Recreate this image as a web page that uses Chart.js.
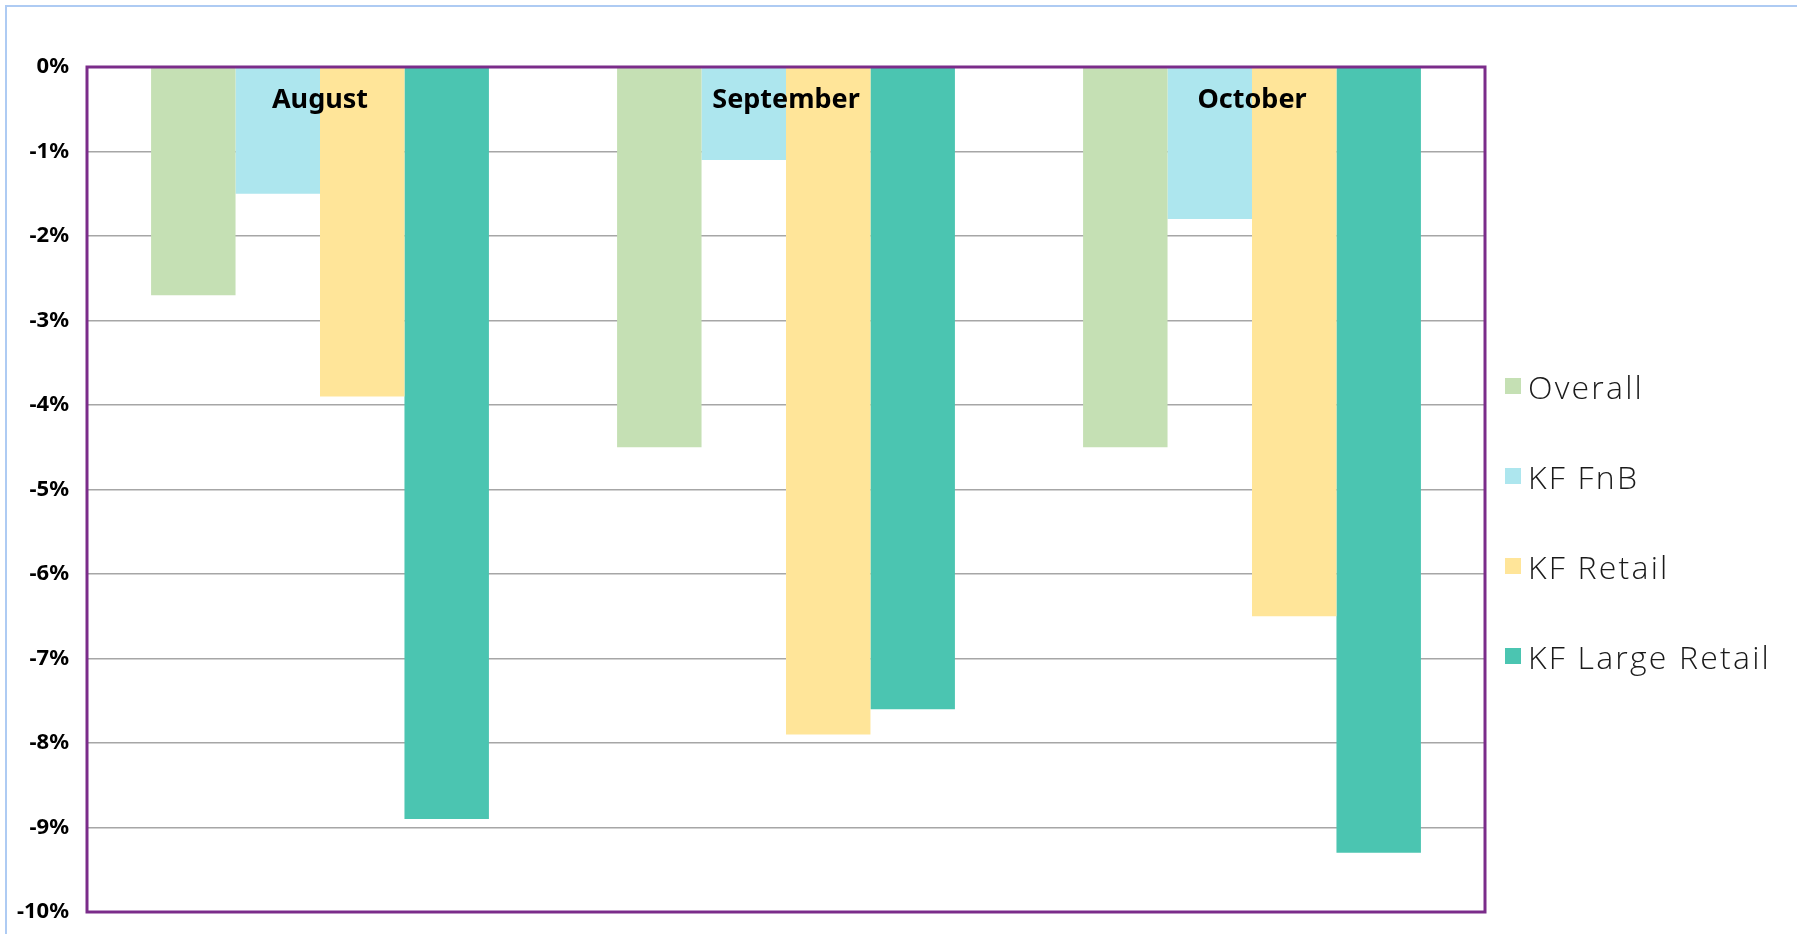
<!DOCTYPE html>
<html>
<head>
<meta charset="utf-8">
<script src="https://cdn.jsdelivr.net/npm/chart.js@4.4.1/dist/chart.umd.min.js"></script>
<style>
    body { margin: 0; background: #fff; }
    #frame { position: absolute; left: 5px; top: 5px; width: 1792px; height: 929px; box-sizing: border-box;
             border-top: 2px solid #aecbf3; border-left: 2px solid #aecbf3; }
    #wrap { position: absolute; left: 0; top: 0; width: 1797px; height: 934px; }
    #legend { position: absolute; left: 1505px; top: 0; font-family: "Open Sans", sans-serif; font-weight: 300;
              font-size: 32px; letter-spacing: 2.2px; color: #1a1a1a; }
    .item { position: absolute; left: 0; height: 40px; display: flex; align-items: center; white-space: nowrap; }
    .box { width: 16px; height: 16px; margin-right: 7px; }
</style>
</head>
<body>
<div id="frame"></div>
<div id="wrap"><canvas id="chart_sales"></canvas></div>
<div id="legend"></div>
<script>
// values, in percent
const categories = ['August', 'September', 'October'];
const seriesNames = ['Overall', 'KF FnB', 'KF Retail', 'KF Large Retail'];
const overall = [-2.7, -4.5, -4.5];
const kfFnb = [-1.5, -1.1, -1.8];
const kfRetail = [-3.9, -7.9, -6.5];
const kfLargeRetail = [-8.9, -7.6, -9.3];
const seriesColors = ['#c5e0b4', '#ade6ee', '#ffe599', '#4bc5b1'];
const legendRows = [386, 476, 566, 656];

const seriesValues = [overall, kfFnb, kfRetail, kfLargeRetail];

// purple frame round the plot area
const plotFrame = {
    id: 'plotFrame',
    afterDatasetsDraw(chart) {
        const a = chart.chartArea;
        const ctx = chart.ctx;
        ctx.save();
        ctx.strokeStyle = '#7b2c8a';
        ctx.lineWidth = 3;
        ctx.strokeRect(a.left, a.top, a.right - a.left, a.bottom - a.top);
        ctx.restore();
    }
};

// month names sit inside the plot, over the bars
const monthLabels = {
    id: 'monthLabels',
    afterDatasetsDraw(chart) {
        const x = chart.scales.x;
        const ctx = chart.ctx;
        ctx.save();
        ctx.font = 'bold 27px "Noto Sans"';
        ctx.fillStyle = '#000';
        ctx.textAlign = 'center';
        ctx.textBaseline = 'middle';
        categories.forEach((c, i) => ctx.fillText(c, x.getPixelForValue(i), chart.chartArea.top + 33));
        ctx.restore();
    }
};

const chart = new Chart(document.getElementById('chart_sales'), {
    type: 'bar',
    data: {
        labels: categories,
        datasets: seriesNames.map((name, i) => ({
            label: name,
            data: seriesValues[i],
            backgroundColor: seriesColors[i],
            borderWidth: 0,
            categoryPercentage: 0.725,
            barPercentage: 1.0
        }))
    },
    options: {
        responsive: true,
        maintainAspectRatio: false,
        animation: false,
        layout: { padding: { left: 0, top: 67, right: 312, bottom: 22 } },
        scales: {
            x: { display: false },
            y: {
                min: -10,
                max: 0,
                afterFit: function (scale) {
                    scale.width = 87;
                    scale.paddingTop = 0;
                    scale.paddingBottom = 0;
                },
                border: { display: false },
                grid: { color: '#a6a6a6', lineWidth: 1.5, drawTicks: false },
                ticks: {
                    stepSize: 1,
                    padding: 18,
                    color: '#000',
                    font: { family: 'Noto Sans', weight: 'bold', size: 22 },
                    callback: function (value) { return value + '%'; }
                }
            }
        },
        plugins: {
            legend: { display: false },
            tooltip: { enabled: false }
        }
    },
    plugins: [plotFrame, monthLabels]
});

// legend on the right, built from the same series
const legend = document.getElementById('legend');
seriesNames.forEach((name, i) => {
    const row = document.createElement('div');
    row.className = 'item';
    row.style.top = (legendRows[i] - 20) + 'px';
    row.innerHTML = '<span class="box" style="background:' + seriesColors[i] + '"></span><span>' + name + '</span>';
    legend.appendChild(row);
});
</script>
</body>
</html>
